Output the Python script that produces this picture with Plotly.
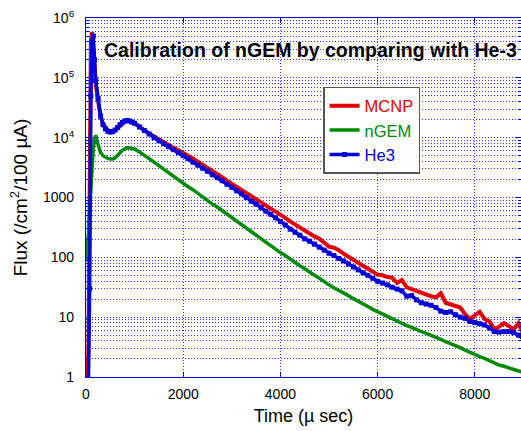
import plotly.graph_objects as go

# Time bins (microseconds)
time_us = [0, 25, 50, 75, 100, 125, 150, 175, 200, 250, 300, 350, 400, 450, 500,
           550, 600, 650, 700, 750, 800, 850, 900, 950, 1000,
           1100, 1200, 1300, 1400, 1500, 1600, 1700, 1800, 1900, 2000,
           2100, 2200, 2300, 2400, 2500, 2600, 2700, 2800, 2900, 3000,
           3100, 3200, 3300, 3400, 3500, 3600, 3700, 3800, 3900, 4000,
           4100, 4200, 4300, 4400, 4500, 4600, 4700, 4800, 4900, 5000,
           5100, 5200, 5300, 5400, 5500, 5600, 5700, 5800, 5900, 6000,
           6100, 6200, 6300, 6400, 6500, 6600, 6700, 6800, 6900, 7000,
           7100, 7200, 7300, 7400, 7500, 7600, 7700, 7800, 7900, 8000,
           8100, 8200, 8300, 8400, 8500, 8600, 8700, 8800, 8900, 9000]

mcnp = [0.5, 0.5, 3, 300, 4e5, 5.8e5, 3e5, 1.5e5, 8e4, 4e4, 2.3e4, 1.7e4, 1.45e4, 1.32e4, 1.26e4,
        1.26e4, 1.33e4, 1.45e4, 1.6e4, 1.75e4, 1.87e4, 1.92e4, 1.9e4, 1.83e4, 1.74e4,
        15100, 13200, 11700, 10500, 9330, 8320, 7590, 6760, 6170, 5620,
        5010, 4470, 3980, 3550, 3090, 2750, 2450, 2190, 1910, 1700,
        1510, 1350, 1170, 1050, 933, 832, 724, 646, 575, 513,
        457, 398, 355, 316, 275, 245, 224, 204, 174, 151,
        145, 132, 115, 100, 91.2, 81.3, 72.4, 64.6, 57.5, 51.3,
        50.1, 46.8, 45.7, 37.2, 41.7, 31.6, 29.5, 27.5, 25.7, 23.4,
        22.4, 21.4, 25.1, 17.4, 16.2, 15.5, 14.5, 11.2, 9.33, 10.7,
        12.3, 9.33, 8.51, 6.31, 6.92, 7.94, 6.92, 6.31, 7.94, 5.25]

ngem = [90, 150, 250, 600, 1500, 3500, 6500, 9500, 1.1e4, 7500, 5600, 5000, 4700, 4500, 4400,
        4400, 4600, 5000, 5600, 6200, 6600, 6750, 6700, 6600, 6460,
        5750, 5130, 4470, 3890, 3390, 2950, 2570, 2290, 2000, 1740,
        1510, 1350, 1170, 1020, 891, 776, 692, 603, 525, 457,
        398, 347, 309, 269, 234, 204, 178, 158, 138, 120,
        107, 93.3, 83.2, 72.4, 64.6, 56.2, 50.1, 44.7, 38.9, 34.7,
        30.9, 28.2, 25.1, 22.9, 20.4, 18.6, 16.6, 15.1, 13.5, 12.3,
        11.2, 10.2, 9.55, 8.71, 7.94, 7.24, 6.76, 6.17, 5.75, 5.37,
        5.01, 4.57, 4.27, 3.89, 3.63, 3.31, 3.09, 2.82, 2.57, 2.34,
        2.19, 2.04, 1.86, 1.74, 1.58, 1.51, 1.41, 1.35, 1.26, 1.20]

he3 = [0.5, 0.5, 0.8, 30, 5e4, 4e5, 5e5, 2e5, 9e4, 4.5e4, 2.3e4, 1.65e4, 1.4e4, 1.28e4, 1.24e4,
       1.26e4, 1.34e4, 1.48e4, 1.65e4, 1.8e4, 1.9e4, 1.93e4, 1.9e4, 1.82e4, 1.74e4,
       15100, 13200, 11500, 10000, 8910, 7940, 7080, 6310, 5620, 5010,
       4470, 3890, 3470, 3090, 2750, 2400, 2140, 1910, 1660, 1480,
       1290, 1150, 1000, 871, 776, 676, 589, 525, 457, 398,
       347, 295, 263, 234, 204, 186, 166, 148, 132, 117,
       107, 95.5, 87.1, 77.6, 69.2, 61.7, 55.0, 50.1, 44.7, 39.8,
       37.2, 34.7, 31.6, 29.5, 27.5, 22.4, 22.9, 19.5, 17.4, 16.6,
       15.8, 14.5, 12.6, 12.0, 12.3, 11.0, 10.0, 9.55, 8.51, 8.13,
       7.76, 7.41, 6.61, 5.75, 5.62, 5.75, 5.75, 5.50, 5.01, 4.27]

series_names = ["MCNP", "nGEM", "He3"]
x_tick_vals = [0, 2000, 4000, 6000, 8000]
x_tick_text = ["0", "2000", "4000", "6000", "8000"]
y_tick_vals = [1, 10, 100, 1000, 1e4, 1e5, 1e6]
y_tick_text = ["1", "10", "100", "1000", "10<sup>4</sup>", "10<sup>5</sup>", "10<sup>6</sup>"]

RED = "#e00000"
GREEN = "#008a00"
BLUE = "#0000d8"
GRID = "rgb(50,50,255)"
FONT = "Liberation Sans, Arial, sans-serif"
DOTS = "1px,2px"

fig = go.Figure()
fig.add_trace(go.Scatter(
    x=time_us, y=mcnp, mode="lines",
    name=f"<span style='color:{RED}'>{series_names[0]}</span>",
    line=dict(color=RED, width=4)))
fig.add_trace(go.Scatter(
    x=time_us, y=ngem, mode="lines",
    name=f"<span style='color:{GREEN}'>{series_names[1]}</span>",
    line=dict(color=GREEN, width=3.5)))
fig.add_trace(go.Scatter(
    x=time_us, y=he3, mode="lines+markers",
    name=f"<span style='color:{BLUE}'>{series_names[2]}</span>",
    line=dict(color=BLUE, width=3.5),
    marker=dict(color=BLUE, size=5, symbol="square")))

fig.update_layout(
    width=521, height=431,
    margin=dict(l=86, r=0, t=18, b=54),
    paper_bgcolor="white", plot_bgcolor="white",
    font=dict(family=FONT, color="black"),
    showlegend=True,
    legend=dict(
        x=0.545, y=0.808, xanchor="left", yanchor="top",
        bgcolor="white", bordercolor="#555555", borderwidth=1.5,
        font=dict(size=16.5, family=FONT),
        tracegroupgap=0,
    ),
    annotations=[dict(
        text="<b>Calibration of nGEM by comparing with He-3</b>",
        xref="paper", yref="paper", x=0.996, y=0.911,
        xanchor="right", yanchor="middle", showarrow=False,
        font=dict(size=19.5, family=FONT, color="black"))],
)

fig.update_xaxes(
    range=[0, 8950],
    tickmode="array", tickvals=x_tick_vals, ticktext=x_tick_text,
    showgrid=True, gridcolor=GRID, griddash=DOTS, gridwidth=1,
    showline=True, linecolor=BLUE, linewidth=1.2, mirror="ticks",
    ticks="inside", ticklen=5, tickcolor=BLUE,
    tickfont=dict(size=14, family=FONT, color="black"),
    ticklabelstandoff=4,
    zeroline=False,
    title=dict(text="Time (µ sec)", font=dict(size=18, family=FONT), standoff=8),
)

fig.update_yaxes(
    type="log", range=[0, 6],
    tickmode="array", tickvals=y_tick_vals, ticktext=y_tick_text,
    showgrid=True, gridcolor=GRID, griddash=DOTS, gridwidth=1,
    showline=True, linecolor=BLUE, linewidth=1.2, mirror="ticks",
    ticks="inside", ticklen=5, tickcolor=BLUE,
    tickfont=dict(size=14, family=FONT, color="black"),
    ticklabelstandoff=8,
    minor=dict(dtick="D1", showgrid=True, gridcolor=GRID, griddash=DOTS,
               gridwidth=1, ticks="inside", ticklen=3, tickcolor=BLUE),
    zeroline=False,
    title=dict(text="Flux (/cm<sup>2</sup>/100 µA)", font=dict(size=19, family=FONT), standoff=10),
)

fig.write_html("out.html", config={"displayModeBar": False},
               post_script="document.body.style.margin='0px';")
